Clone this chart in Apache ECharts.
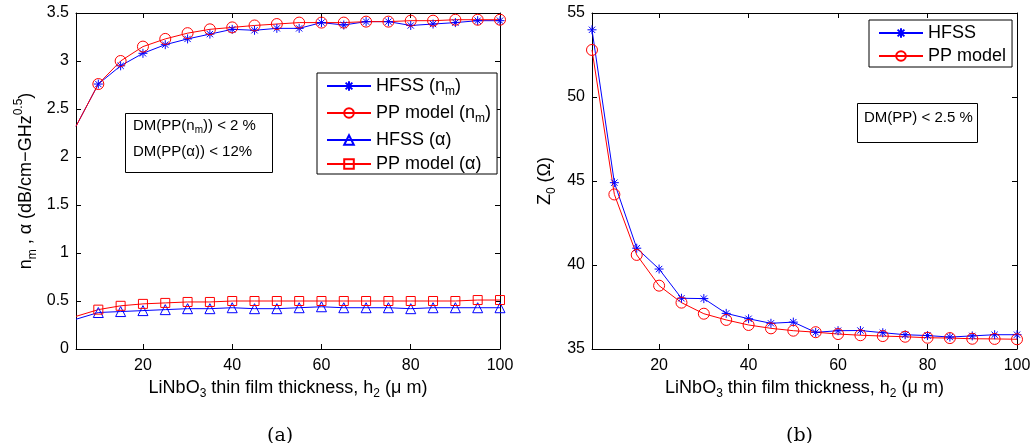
<!DOCTYPE html>
<html><head><meta charset="utf-8">
<script src="https://cdn.jsdelivr.net/npm/echarts@6/dist/echarts.min.js"></script>
<style>html,body{margin:0;padding:0;background:#fff}#c{width:1036px;height:443px}</style>
</head><body><div id="c"></div>
<script>
// ---- data ----
const thickness = [5,10,15,20,25,30,35,40,45,50,55,60,65,70,75,80,85,90,95,100];
const hfssNm   = [2.32,2.76,2.95,3.08,3.17,3.23,3.28,3.33,3.32,3.34,3.34,3.40,3.375,3.41,3.41,3.37,3.385,3.40,3.42,3.42];
const ppNm     = [2.32,2.76,3.00,3.15,3.23,3.29,3.33,3.35,3.37,3.385,3.40,3.40,3.40,3.41,3.41,3.42,3.42,3.43,3.43,3.43];
const hfssAlpha= [0.31,0.38,0.39,0.40,0.41,0.42,0.42,0.43,0.42,0.42,0.43,0.44,0.43,0.43,0.43,0.42,0.43,0.43,0.43,0.43];
const ppAlpha  = [0.34,0.41,0.45,0.47,0.48,0.49,0.49,0.50,0.50,0.50,0.50,0.50,0.50,0.50,0.50,0.50,0.50,0.50,0.51,0.51];
const hfssZ0   = [54.0,44.9,41.0,39.76,38.02,38.0,37.12,36.8,36.53,36.6,35.99,36.09,36.1,35.97,35.85,35.8,35.71,35.78,35.85,35.85];
const ppZ0     = [52.8,44.2,40.6,38.77,37.76,37.1,36.73,36.43,36.23,36.09,36.0,35.89,35.82,35.77,35.73,35.67,35.65,35.61,35.6,35.58];
const xTicks = [20,40,60,80,100];
const yTicksA = [0,0.5,1,1.5,2,2.5,3,3.5];
const yTicksB = [35,40,45,50,55];

const FONT = 'Liberation Sans';
const STAR = 'path://M0,5L10,5M5,0L5,10M1.5,1.5L8.5,8.5M1.5,8.5L8.5,1.5';
const pairs = (ys, noFirstSymbol) => thickness.map((x,i) => (i===0 && noFirstSymbol) ? {value:[x,ys[i]], symbol:'none'} : [x,ys[i]]);

function xAx(grid, top, name) {
  return {
    type:'value', gridIndex:grid, min:5, max:100, position: top ? 'top' : 'bottom',
    axisLine:{show:true, onZero:false, lineStyle:{color:'#000', width:1}},
    axisTick:{show:true, inside:true, length:5, customValues:xTicks, lineStyle:{color:'#000'}},
    axisLabel:{show:!top, customValues:xTicks, color:'#000', fontSize:16, fontFamily:FONT, margin:9},
    splitLine:{show:false},
    name: top ? '' : name, nameLocation:'middle', nameGap:19,
    nameTextStyle:{color:'#000', fontSize:18, fontFamily:FONT,
      rich:{t:{fontSize:18, fontFamily:FONT, color:'#000', lineHeight:24, verticalAlign:'middle'},
            sub:{fontSize:12, fontFamily:FONT, color:'#000', lineHeight:12, verticalAlign:'bottom'}}}
  };
}
function yAx(grid, right, min, max, ticks, name, gap) {
  return {
    type:'value', gridIndex:grid, min:min, max:max, position: right ? 'right' : 'left',
    axisLine:{show:true, onZero:false, lineStyle:{color:'#000', width:1}},
    axisTick:{show:true, inside:true, length:5, customValues:ticks, lineStyle:{color:'#000'}},
    axisLabel:{show:!right, customValues:ticks, color:'#000', fontSize:16, fontFamily:FONT, margin:7},
    splitLine:{show:false},
    name: right ? '' : name, nameLocation:'middle', nameGap:gap, nameRotate:90,
    nameTextStyle:{color:'#000', fontSize:18, fontFamily:FONT,
      rich:{t:{fontSize:18, fontFamily:FONT, color:'#000', lineHeight:26, verticalAlign:'middle'},
            sub:{fontSize:12, fontFamily:FONT, color:'#000', lineHeight:12, verticalAlign:'bottom'},
            sup:{fontSize:12, fontFamily:FONT, color:'#000', lineHeight:12, verticalAlign:'top'}}}
  };
}

const xName = '{t|LiNbO}{sub|3}{t| thin film thickness, h}{sub|2}{t| (μ m)}';
const legendRich = {
  t:{fontSize:18, fontFamily:FONT, color:'#000', lineHeight:24, verticalAlign:'middle'},
  sub:{fontSize:12, fontFamily:FONT, color:'#000', lineHeight:12, verticalAlign:'bottom'}
};
const legendFmt = {
  'HFSS (nm)':'{t|HFSS (n}{sub|m}{t|)}',
  'PP model (nm)':'{t|PP model (n}{sub|m}{t|)}',
  'HFSS (α)':'{t|HFSS (α)}',
  'PP model (α)':'{t|PP model (α)}',
  'HFSS':'{t|HFSS}',
  'PP model':'{t|PP model}'
};

function lineSeries(name, xi, yi, data, color, symbol, size, hollow) {
  return {
    type:'line', name:name, xAxisIndex:xi, yAxisIndex:yi, data:data,
    symbol:symbol, symbolSize:size, showSymbol:true,
    lineStyle:{color:color, width:1},
    itemStyle:{color: hollow ? 'rgba(255,255,255,0)' : color, borderColor:color, borderWidth:1},
    emphasis:{disabled:true}, z:3
  };
}

const chart = echarts.init(document.getElementById('c'), null, {renderer:'canvas'});
chart.setOption({
  animation:false,
  backgroundColor:'#fff',
  grid:[
    {left:76, top:13, width:424, height:336},
    {left:592, top:13, width:425, height:336}
  ],
  xAxis:[ xAx(0,false,xName), xAx(0,true,''), xAx(1,false,xName), xAx(1,true,'') ],
  yAxis:[
    yAx(0,false,0,3.5,yTicksA,'{t|n}{sub|m}{t| , α (dB/cm−GHz}{sup|0.5}{t|)}',37),
    yAx(0,true,0,3.5,yTicksA,''),
    yAx(1,false,35,55,yTicksB,'{t|Z}{sub|0}{t| (Ω)}',34),
    yAx(1,true,35,55,yTicksB,'')
  ],
  legend:[
    {data:['HFSS (nm)','PP model (nm)','HFSS (α)','PP model (α)'], orient:'vertical',
     left:317, top:73, padding:[4,6,1,9], itemGap:6, itemWidth:44, itemHeight:12,
     backgroundColor:'#fff', borderColor:'#000', borderWidth:1, borderRadius:0,
     formatter:n=>legendFmt[n], textStyle:{rich:legendRich}, selectedMode:false},
    {data:['HFSS','PP model'], orient:'vertical',
     left:869, top:20, padding:[4,6,2,9], itemGap:5, itemWidth:44, itemHeight:12,
     backgroundColor:'#fff', borderColor:'#000', borderWidth:1, borderRadius:0,
     formatter:n=>legendFmt[n], textStyle:{rich:{t:{fontSize:18, fontFamily:FONT, color:'#000', lineHeight:18}}}, selectedMode:false}
  ],
  series:[
    lineSeries('HFSS (nm)',0,0,pairs(hfssNm,true),'#0000ff',STAR,9,false),
    lineSeries('PP model (nm)',0,0,pairs(ppNm,true),'#ff0000','circle',11,true),
    lineSeries('HFSS (α)',0,0,pairs(hfssAlpha,true),'#0000ff','triangle',10,true),
    lineSeries('PP model (α)',0,0,pairs(ppAlpha,true),'#ff0000','rect',9,true),
    lineSeries('HFSS',2,2,pairs(hfssZ0,false),'#0000ff',STAR,9,false),
    lineSeries('PP model',2,2,pairs(ppZ0,false),'#ff0000','circle',11,true)
  ],
  graphic:[
    {type:'rect', left:125, top:113, shape:{width:147, height:59}, style:{fill:'#fff', stroke:'#000', lineWidth:1}, z:10},
    {type:'text', left:133, top:118, z:11, style:{text:'{t|DM(PP(n}{sub|m}{t|)) < 2 %}', rich:{
      t:{fontSize:15, fontFamily:FONT, fill:'#000', lineHeight:20, verticalAlign:'middle'},
      sub:{fontSize:10, fontFamily:FONT, fill:'#000', lineHeight:10, verticalAlign:'bottom'}}}},
    {type:'text', left:133, top:144, z:11, style:{text:'DM(PP(α)) < 12%', fontSize:15, fontFamily:FONT, fill:'#000'}},
    {type:'rect', left:857, top:103, shape:{width:120, height:39}, style:{fill:'#fff', stroke:'#000', lineWidth:1}, z:10},
    {type:'text', left:864, top:110, z:11, style:{text:'DM(PP) < 2.5 %', fontSize:15, fontFamily:FONT, fill:'#000'}},
    {type:'text', left:267, top:427, z:11, style:{text:'(a)', fontSize:19, fontFamily:'DejaVu Serif', fill:'#000', align:'center', verticalAlign:'middle'}},
    {type:'text', left:786, top:427, z:11, style:{text:'(b)', fontSize:19, fontFamily:'DejaVu Serif', fill:'#000', align:'center', verticalAlign:'middle'}}
  ]
});
</script></body></html>
